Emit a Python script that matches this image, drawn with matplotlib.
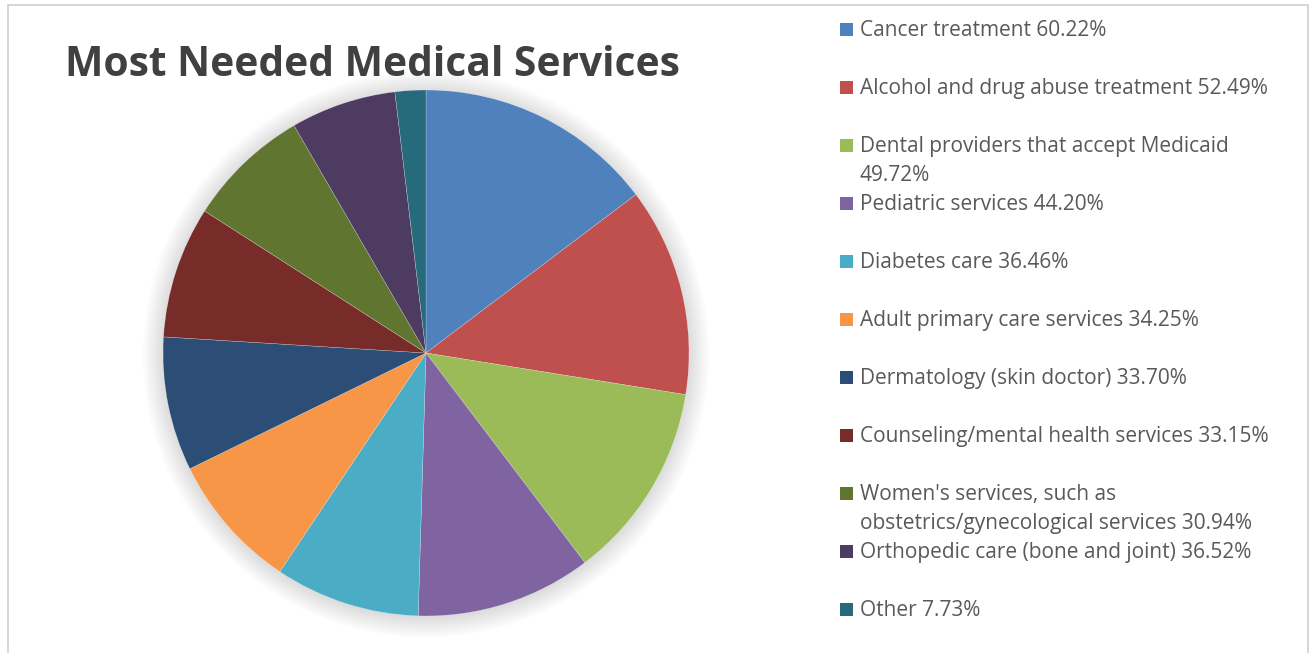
import matplotlib.pyplot as plt
from matplotlib.patches import Circle, Rectangle

# Chart data
labels = [
    "Cancer treatment 60.22%",
    "Alcohol and drug abuse treatment 52.49%",
    "Dental providers that accept Medicaid\n49.72%",
    "Pediatric services 44.20%",
    "Diabetes care 36.46%",
    "Adult primary care services 34.25%",
    "Dermatology (skin doctor) 33.70%",
    "Counseling/mental health services 33.15%",
    "Women's services, such as\nobstetrics/gynecological services 30.94%",
    "Orthopedic care (bone and joint) 36.52%",
    "Other 7.73%",
]
# slice sizes as drawn (the orthopedic slice is drawn smaller than its label says)
values = [60.22, 52.49, 49.72, 44.20, 36.46, 34.25, 33.70, 33.15, 30.94, 26.52, 7.73]
colors = ["#4F81BD", "#C0504D", "#9BBB59", "#8064A2", "#4BACC6", "#F79646",
          "#2C4D75", "#772C2A", "#5F7530", "#4D3B62", "#276A7C"]

W, H = 1312, 653
fig = plt.figure(figsize=(W / 100, H / 100), dpi=100)
fig.patch.set_facecolor("white")

# outer chart border
fig.patches.append(Rectangle((8 / W, -0.05), 1300 / W, 1.05 - 5 / H,
                             transform=fig.transFigure, fill=False,
                             edgecolor="#D0D0D0", linewidth=1.2))

# pie axes: center (426, 353), radius 263 px
cx, cy, r = 426, 353, 263
pad = 1.12
ax = fig.add_axes([(cx - r * pad) / W, (H - cy - r * pad) / H,
                   2 * r * pad / W, 2 * r * pad / H])
ax.set_xlim(-pad, pad)
ax.set_ylim(-pad, pad)
ax.set_aspect("equal")
ax.axis("off")

# soft shadow around the pie
for i in range(12):
    ax.add_patch(Circle((0, -0.005), 1.0 + i * 0.007, color="black",
                        alpha=0.011, linewidth=0, zorder=0))

ax.pie(values, colors=colors, startangle=90, counterclock=False, radius=1.0,
       wedgeprops=dict(linewidth=0.3, edgecolor=(1, 1, 1, 0.5)))
ax.set_xlim(-pad, pad)
ax.set_ylim(-pad, pad)

# title
fig.text(65 / W, 1 - 65 / H, "Most Needed Medical Services", fontsize=29.3,
         fontweight="bold", color="#404040", family="Open Sans",
         ha="left", va="center")

# legend, one slot of 58 px per entry
for i, (lab, col) in enumerate(zip(labels, colors)):
    y = 29 + 58 * i
    fig.patches.append(Rectangle((840 / W, 1 - (y + 6.5) / H), 13 / W, 13 / H,
                                 transform=fig.transFigure, facecolor=col,
                                 edgecolor="none"))
    fig.text(860 / W, 1 - (y - 9) / H, lab, fontsize=15, color="#595959",
             family="Open Sans", ha="left", va="top", linespacing=1.48)

fig.savefig("out.png", dpi=100)
